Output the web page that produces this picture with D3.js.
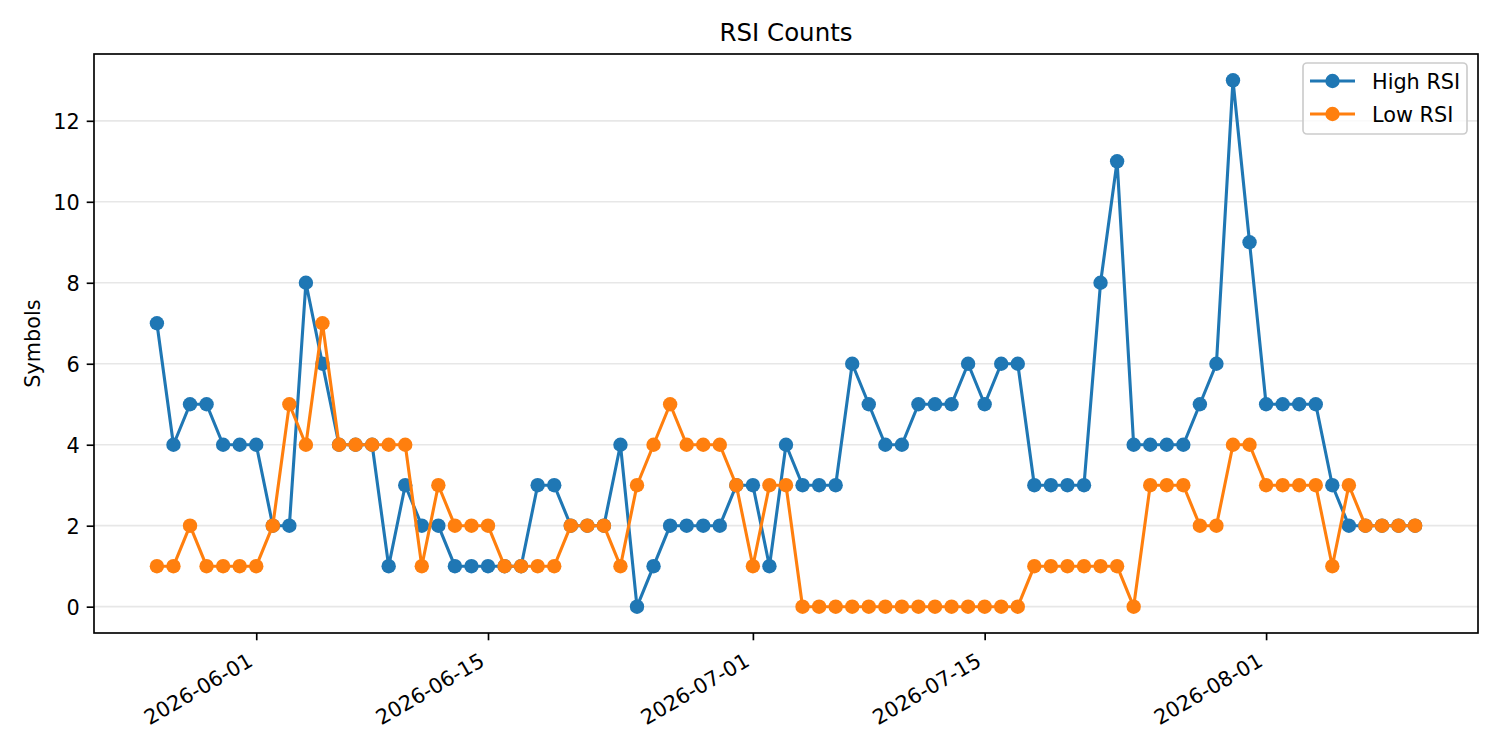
<!DOCTYPE html>
<html>
<head>
<meta charset="utf-8">
<script src="https://cdn.jsdelivr.net/npm/d3@7"></script>
<style>
  body { margin: 0; background: #fff; }
  svg { font-family: "DejaVu Sans", sans-serif; }
</style>
</head>
<body>
<svg id="chart"></svg>
<script>
// Daily observations
const dates = [
  '2026-05-26', '2026-05-27', '2026-05-28', '2026-05-29', '2026-05-30', '2026-05-31',
  '2026-06-01', '2026-06-02', '2026-06-03', '2026-06-04', '2026-06-05', '2026-06-06', '2026-06-07',
  '2026-06-08', '2026-06-09', '2026-06-10', '2026-06-11', '2026-06-12', '2026-06-13', '2026-06-14',
  '2026-06-15', '2026-06-16', '2026-06-17', '2026-06-18', '2026-06-19', '2026-06-20', '2026-06-21',
  '2026-06-22', '2026-06-23', '2026-06-24', '2026-06-25', '2026-06-26', '2026-06-27', '2026-06-28',
  '2026-06-29', '2026-06-30', '2026-07-01', '2026-07-02', '2026-07-03', '2026-07-04', '2026-07-05',
  '2026-07-06', '2026-07-07', '2026-07-08', '2026-07-09', '2026-07-10', '2026-07-11', '2026-07-12',
  '2026-07-13', '2026-07-14', '2026-07-15', '2026-07-16', '2026-07-17', '2026-07-18', '2026-07-19',
  '2026-07-20', '2026-07-21', '2026-07-22', '2026-07-23', '2026-07-24', '2026-07-25', '2026-07-26',
  '2026-07-27', '2026-07-28', '2026-07-29', '2026-07-30', '2026-07-31', '2026-08-01', '2026-08-02',
  '2026-08-03', '2026-08-04', '2026-08-05', '2026-08-06', '2026-08-07', '2026-08-08', '2026-08-09',
  '2026-08-10'
];

const highRsi = [
  7, 4, 5, 5, 4, 4,
  4, 2, 2, 8, 6, 4, 4,
  4, 1, 3, 2, 2, 1, 1,
  1, 1, 1, 3, 3, 2, 2,
  2, 4, 0, 1, 2, 2, 2,
  2, 3, 3, 1, 4, 3, 3,
  3, 6, 5, 4, 4, 5, 5,
  5, 6, 5, 6, 6, 3, 3,
  3, 3, 8, 11, 4, 4, 4,
  4, 5, 6, 13, 9, 5, 5,
  5, 5, 3, 2, 2, 2, 2,
  2
];

const lowRsi = [
  1, 1, 2, 1, 1, 1,
  1, 2, 5, 4, 7, 4, 4,
  4, 4, 4, 1, 3, 2, 2,
  2, 1, 1, 1, 1, 2, 2,
  2, 1, 3, 4, 5, 4, 4,
  4, 3, 1, 3, 3, 0, 0,
  0, 0, 0, 0, 0, 0, 0,
  0, 0, 0, 0, 0, 1, 1,
  1, 1, 1, 1, 0, 3, 3,
  3, 2, 2, 4, 4, 3, 3,
  3, 3, 1, 3, 2, 2, 2,
  2
];

const seriesNames = ['High RSI', 'Low RSI'];
const xTickDates = ['2026-06-01', '2026-06-15', '2026-07-01', '2026-07-15', '2026-08-01'];
const yTicks = [0, 2, 4, 6, 8, 10, 12];

const width = 1500, height = 750;
const margin = { top: 54, right: 22, bottom: 117, left: 94 };
const colors = ['#1f77b4', '#ff7f0e'];
const parse = d3.utcParse('%Y-%m-%d');

const svg = d3.select('#chart')
  .attr('width', width)
  .attr('height', height);

const x0 = parse(dates[0]), x1 = parse(dates[dates.length - 1]);
const xPad = (x1 - x0) * 0.05;

const xScale = d3.scaleUtc()
  .domain([new Date(+x0 - xPad), new Date(+x1 + xPad)])
  .range([margin.left, width - margin.right]);

const yMax = d3.max(highRsi.concat(lowRsi));
const yScale = d3.scaleLinear()
  .domain([-yMax * 0.05, yMax * 1.05])
  .range([height - margin.bottom, margin.top]);

// horizontal grid
svg.append('g')
  .selectAll('line')
  .data(yTicks)
  .join('line')
  .attr('x1', margin.left)
  .attr('x2', width - margin.right)
  .attr('y1', d => yScale(d))
  .attr('y2', d => yScale(d))
  .attr('stroke', '#b0b0b0')
  .attr('stroke-opacity', 0.3)
  .attr('stroke-width', 1.67);

// series lines + markers
const series = [highRsi, lowRsi].map((vals, i) => ({
  name: seriesNames[i],
  color: colors[i],
  points: vals.map((v, j) => ({ date: parse(dates[j]), value: v }))
}));

const line = d3.line()
  .x(d => xScale(d.date))
  .y(d => yScale(d.value));

series.forEach(s => {
  const g = svg.append('g');
  g.append('path')
    .datum(s.points)
    .attr('fill', 'none')
    .attr('stroke', s.color)
    .attr('stroke-width', 3.1)
    .attr('stroke-linejoin', 'round')
    .attr('d', line);
  g.selectAll('circle')
    .data(s.points)
    .join('circle')
    .attr('cx', d => xScale(d.date))
    .attr('cy', d => yScale(d.value))
    .attr('r', 7.2)
    .attr('fill', s.color);
});

// y axis
const yAxis = d3.axisLeft(yScale)
  .tickValues(yTicks)
  .tickSize(7.3)
  .tickPadding(7)
  .tickSizeOuter(0);

const yAxisG = svg.append('g')
  .attr('transform', `translate(${margin.left},0)`)
  .call(yAxis);
yAxisG.select('.domain').remove();
yAxisG.selectAll('.tick line').attr('stroke', '#000').attr('stroke-width', 1.67);
yAxisG.selectAll('.tick text')
  .attr('font-size', 20.8)
  .attr('font-family', 'DejaVu Sans')
  .attr('fill', '#000')
  .attr('dy', '0.36em');

// x axis
const xAxis = d3.axisBottom(xScale)
  .tickValues(xTickDates.map(parse))
  .tickSize(7.3)
  .tickFormat(d3.utcFormat('%Y-%m-%d'))
  .tickSizeOuter(0);

const xAxisG = svg.append('g')
  .attr('transform', `translate(0,${height - margin.bottom})`)
  .call(xAxis);
xAxisG.select('.domain').remove();
xAxisG.selectAll('.tick line').attr('stroke', '#000').attr('stroke-width', 1.67);
xAxisG.selectAll('.tick text')
  .attr('font-size', 20.8)
  .attr('font-family', 'DejaVu Sans')
  .attr('fill', '#000')
  .attr('text-anchor', 'end')
  .attr('y', 0)
  .attr('dy', 0)
  .attr('transform', 'translate(-2.5,32) rotate(-30)');

// plot frame
svg.append('rect')
  .attr('x', margin.left)
  .attr('y', margin.top)
  .attr('width', width - margin.left - margin.right)
  .attr('height', height - margin.top - margin.bottom)
  .attr('fill', 'none')
  .attr('stroke', '#000')
  .attr('stroke-width', 1.67);

// title + y label
svg.append('text')
  .attr('x', (margin.left + width - margin.right) / 2)
  .attr('y', 41)
  .attr('text-anchor', 'middle')
  .attr('font-size', 24.5)
  .text('RSI Counts');

svg.append('text')
  .attr('transform', `translate(40,${(margin.top + height - margin.bottom) / 2}) rotate(-90)`)
  .attr('text-anchor', 'middle')
  .attr('font-size', 20.8)
  .text('Symbols');

// legend
const legend = svg.append('g').attr('transform', 'translate(1303,63)');
legend.append('rect')
  .attr('width', 164)
  .attr('height', 71)
  .attr('rx', 4)
  .attr('fill', '#fff')
  .attr('fill-opacity', 0.8)
  .attr('stroke', '#cccccc')
  .attr('stroke-width', 1.67);

series.forEach((s, i) => {
  const row = legend.append('g').attr('transform', `translate(0,${18 + i * 33})`);
  row.append('line')
    .attr('x1', 7).attr('x2', 52)
    .attr('stroke', s.color)
    .attr('stroke-width', 3.1);
  row.append('circle')
    .attr('cx', 29.5)
    .attr('r', 7.2)
    .attr('fill', s.color);
  row.append('text')
    .attr('x', 69)
    .attr('dy', '0.36em')
    .attr('font-size', 20.8)
    .text(s.name);
});
</script>
</body>
</html>
